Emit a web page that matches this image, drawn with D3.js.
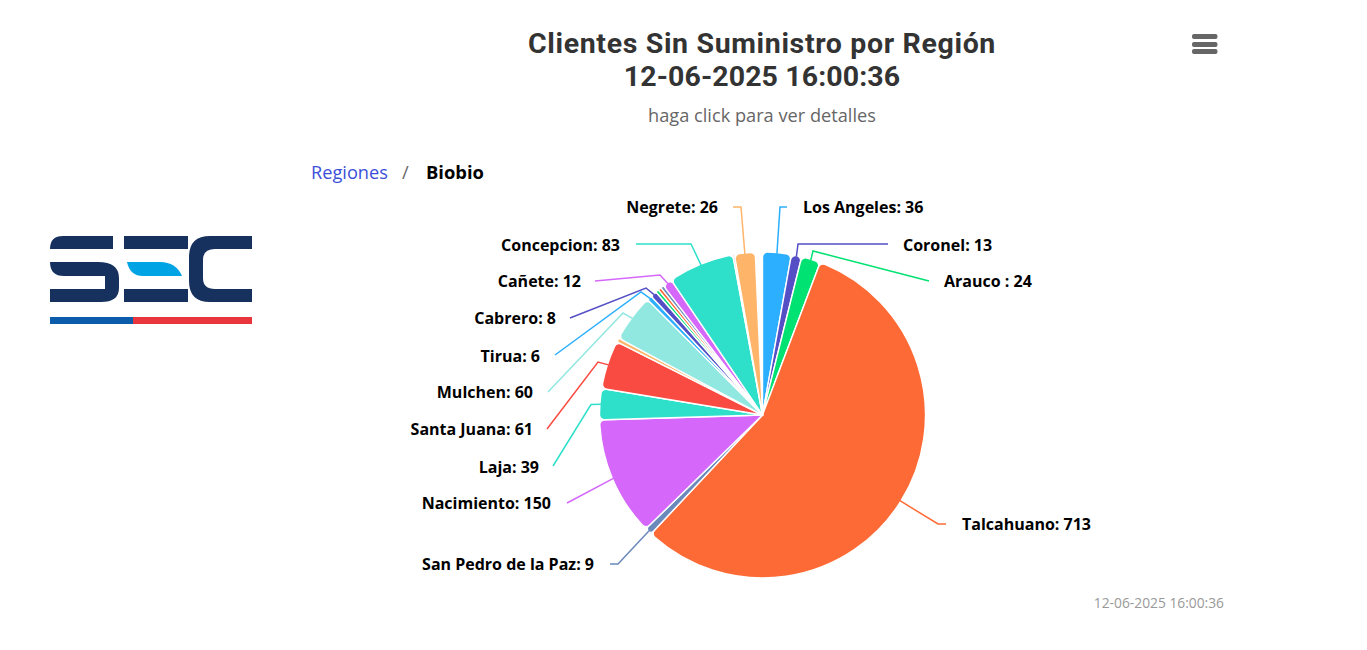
<!DOCTYPE html>
<html lang="es">
<head>
<meta charset="utf-8">
<title>Clientes Sin Suministro por Región</title>
<script src="https://cdn.jsdelivr.net/npm/d3@7/dist/d3.min.js"></script>
<style>
html,body{margin:0;padding:0;background:#fff;overflow:hidden}
svg{display:block}
text{font-family:"Open Sans","Noto Sans",sans-serif}
text.title{font-family:Roboto,"Open Sans",sans-serif}
</style>
</head>
<body>
<svg id="chart" width="1367" height="650"></svg>
<script>
const titleLines = ["Clientes Sin Suministro por Región", "12-06-2025 16:00:36"];
const subtitle = "haga click para ver detalles";
const stamp = "12-06-2025 16:00:36";
const crumbs = ["Regiones", "/", "Biobio"];

// Slices, clockwise from the top. Empty names are slices too thin to carry a label.
const names = ["Los Angeles","Coronel","Arauco ","Talcahuano","San Pedro de la Paz","Nacimiento","Laja","Santa Juana","","Mulchen","Tirua","Cabrero","","","","Cañete","Concepcion","","Negrete",""];
const values = [36,13,24,713,9,150,39,61,5,60,6,8,4,4,4,12,83,2,26,9];
const palette = ["#2caffe","#544fc5","#00e272","#fe6a35","#6b8abc","#d568fb","#2ee0ca","#fa4b42","#feb56a","#91e8e1"];

// Label layout, by name: text anchor point, connector foot and bend.
const labelLayout = {
  "Los Angeles":{x:803,y:207,foot:[787,207],bend:[780,207]},
  "Coronel":{x:903,y:245,foot:[888,244],bend:[798,244]},
  "Arauco ":{x:944,y:281,foot:[929,281],bend:[813,251]},
  "Talcahuano":{x:962,y:524,foot:[946,524],bend:[938,524]},
  "San Pedro de la Paz":{x:594,y:564,foot:[610,564],bend:[618,564]},
  "Nacimiento":{x:551,y:503,foot:[567,503],bend:null},
  "Laja":{x:539,y:467,foot:[553,466],bend:[591,404.5]},
  "Santa Juana":{x:533,y:429,foot:[547,429],bend:[598,362]},
  "Mulchen":{x:533,y:392,foot:[548,392],bend:[623,313]},
  "Tirua":{x:540,y:356,foot:[555,355],bend:[641,292]},
  "Cabrero":{x:556,y:318,foot:[570,318],bend:[646,288]},
  "Cañete":{x:581,y:281,foot:[595,281],bend:[660,275]},
  "Concepcion":{x:620,y:245,foot:[636,244],bend:[691,244]},
  "Negrete":{x:718,y:207,foot:[733,207],bend:[741,207]}
};

const svg = d3.select("#chart");
const cx = 762.5, cy = 415, radius = 163;
const color = d3.scaleOrdinal(d3.range(values.length), palette);
const lastIdx = values.length - 1;

const rows = values.map((v, i) => ({name: names[i], value: v, i}));
const pie = d3.pie().value(d => d.value).sort(null);
const arcs = pie(rows);
const arc = d3.arc().innerRadius(0).outerRadius(radius).cornerRadius(5);

const g = svg.append("g").attr("transform", `translate(${cx},${cy})`);
g.selectAll("path.slice").data(arcs).join("path")
  .attr("class", "slice")
  .attr("d", arc)
  .attr("fill", d => d.data.i === lastIdx ? "none" : color(d.data.i))
  .attr("stroke", d => d.data.i === lastIdx ? "none" : "#fff")
  .attr("stroke-width", 1.4)
  .attr("stroke-linejoin", "round");

const labelled = arcs.filter(d => d.data.name);
const edge = d => {
  const a = (d.startAngle + d.endAngle) / 2;
  return [cx + Math.sin(a) * (radius - 1), cy - Math.cos(a) * (radius - 1)];
};
const line = d3.line();
svg.append("g").selectAll("path").data(labelled).join("path")
  .attr("d", d => {
    const l = labelLayout[d.data.name];
    return line(l.bend ? [l.foot, l.bend, edge(d)] : [l.foot, edge(d)]);
  })
  .attr("fill", "none")
  .attr("stroke", d => color(d.data.i))
  .attr("stroke-width", 1.5);

svg.append("g").selectAll("text").data(labelled).join("text")
  .attr("x", d => labelLayout[d.data.name].x)
  .attr("y", d => labelLayout[d.data.name].y + 5.5)
  .attr("text-anchor", d => labelLayout[d.data.name].x > cx ? "start" : "end")
  .attr("font-size", 16)
  .attr("font-weight", 700)
  .attr("fill", "#000")
  .text(d => `${d.data.name}: ${d.data.value}`);

// Title block
svg.selectAll("text.title").data(titleLines).join("text")
  .attr("class", "title")
  .attr("x", 762).attr("y", (d, i) => 53 + i * 33)
  .attr("text-anchor", "middle")
  .attr("font-size", 28.5).attr("font-weight", 700).attr("fill", "#333")
  .attr("letter-spacing", (d, i) => i === 0 ? 0.65 : 0.1)
  .text(d => d);
svg.append("text").attr("x", 762).attr("y", 122).attr("text-anchor", "middle")
  .attr("font-size", 18.2).attr("fill", "#666").text(subtitle);

// Breadcrumb
svg.append("text").attr("x", 311).attr("y", 179).attr("font-size", 18.2).attr("fill", "#3b4fd8").text(crumbs[0]);
svg.append("text").attr("x", 402).attr("y", 179).attr("font-size", 18.2).attr("fill", "#666").text(crumbs[1]);
svg.append("text").attr("x", 426).attr("y", 179).attr("font-size", 18.4).attr("font-weight", 700).attr("fill", "#000").text(crumbs[2]);

// Timestamp
svg.append("text").attr("x", 1224).attr("y", 608).attr("text-anchor", "end")
  .attr("font-size", 13.8).attr("fill", "#999").text(stamp);

// Export menu icon
svg.append("g").selectAll("rect").data([34, 42, 49]).join("rect")
  .attr("x", 1192).attr("y", d => d).attr("width", 25.5).attr("height", 5)
  .attr("rx", 2).attr("fill", "#666");

// SEC logo
const logo = svg.append("g");
const navy = "#17315f";
[
  "M113,236H63Q50,236 50,249H113Z",
  "M50,262H98Q119,262 119,278V288Q119,302 101,302H50V289H105V276H64Q50,276 50,262Z",
  "M124,236H188V249H124Z",
  "M124,289H188V302H124Z",
  "M252,236H210Q189,236 189,257V281Q189,302 210,302H252V289H215Q203,289 203,278V260Q203,249 215,249H252Z"
].forEach(p => logo.append("path").attr("d", p).attr("fill", navy));
logo.append("path").attr("d", "M127,262H160Q176,262 182,276H143Q130,276 127,262Z").attr("fill", "#00a3e4");
logo.append("rect").attr("x", 50).attr("y", 317).attr("width", 83).attr("height", 7).attr("fill", "#0b5cab");
logo.append("rect").attr("x", 133).attr("y", 317).attr("width", 119).attr("height", 7).attr("fill", "#e8363c");
</script>
</body>
</html>
